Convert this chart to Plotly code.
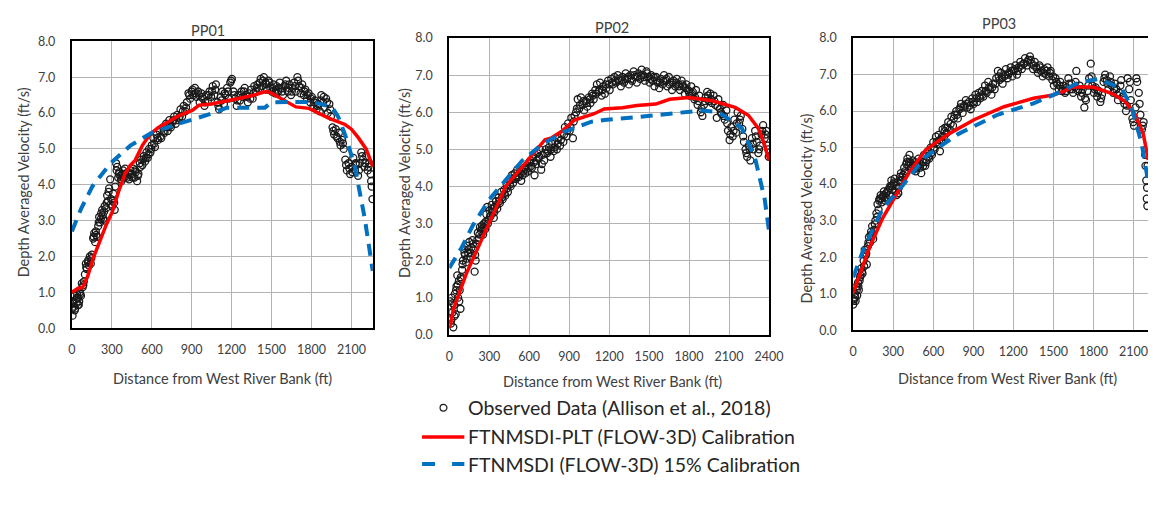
import plotly.graph_objects as go

W, H = 1163, 506

# ---------------- PP01 ----------------
p1_obs_x = [0, 5, 10, 15, 20, 25, 30, 35, 40, 45, 50, 55, 60, 68, 75, 82, 90, 98, 105, 112, 120, 128, 135, 142, 150, 160, 168, 175, 183, 190, 198, 205, 212, 220, 228, 235, 242, 250, 258, 265, 272, 280, 288, 295, 302, 310, 318, 325, 332, 340, 348, 356, 364, 372, 380, 390, 400, 410, 420, 430, 440, 450, 460, 470, 480, 490, 500, 510, 520, 530, 540, 550, 560, 570, 580, 590, 600, 612, 624, 636, 648, 660, 672, 684, 696, 708, 720, 732, 744, 756, 768, 780, 792, 804, 816, 828, 840, 852, 864, 876, 888, 900, 912, 924, 936, 948, 960, 972, 984, 996, 1010, 1022, 1034, 1046, 1058, 1070, 1082, 1094, 1106, 1118, 1130, 1142, 1154, 1166, 1178, 1190, 1202, 1214, 1226, 1238, 1250, 1262, 1274, 1286, 1298, 1310, 1322, 1334, 1346, 1358, 1370, 1382, 1394, 1406, 1418, 1430, 1442, 1454, 1466, 1478, 1490, 1502, 1514, 1526, 1538, 1550, 1562, 1574, 1586, 1598, 1610, 1622, 1634, 1646, 1658, 1670, 1682, 1694, 1706, 1718, 1730, 1742, 1754, 1766, 1778, 1790, 1802, 1814, 1826, 1838, 1850, 1862, 1874, 1886, 1898, 1910, 1922, 1934, 1946, 1958, 1970, 1982, 1994, 2006, 2018, 2030, 2042, 2054, 2066, 2078, 2090, 2102, 2114, 2126, 2138, 2150, 2162, 2174, 2186, 2198, 2210, 2222, 2234, 2244, 2252, 2258]
p1_obs_v = [0.55, 0.35, 0.75, 0.6, 0.9, 0.55, 0.8, 0.7, 0.95, 0.65, 0.85, 0.75, 1.0, 0.9, 1.25, 1.15, 1.3, 1.5, 1.8, 1.65, 1.85, 1.75, 2.0, 1.8, 2.05, 2.5, 2.65, 2.4, 2.6, 2.55, 2.85, 3.1, 2.95, 3.2, 3.3, 3.05, 3.25, 3.0, 3.35, 3.7, 3.55, 3.9, 4.15, 3.6, 3.4, 3.75, 3.5, 3.95, 4.6, 4.5, 4.2, 4.35, 4.25, 4.1, 4.3, 4.2, 4.45, 4.25, 4.35, 4.15, 4.4, 4.3, 4.45, 4.2, 4.35, 4.1, 4.3, 4.6, 4.7, 4.55, 4.8, 4.65, 4.9, 4.75, 5.0, 4.9, 5.1, 5.3, 5.05, 5.4, 5.25, 5.5, 5.3, 5.6, 5.45, 5.7, 5.5, 5.8, 5.6, 5.75, 5.9, 5.7, 5.95, 5.85, 6.1, 5.9, 6.2, 6.05, 6.3, 6.55, 6.4, 6.6, 6.5, 6.7, 6.45, 6.6, 6.3, 6.55, 6.4, 6.2, 6.5, 6.35, 6.6, 6.45, 6.75, 6.5, 6.8, 6.3, 6.1, 6.45, 6.6, 6.25, 6.5, 6.7, 6.4, 6.85, 6.95, 6.6, 6.4, 6.2, 6.5, 6.35, 6.6, 6.45, 6.7, 6.5, 6.3, 6.55, 6.65, 6.4, 6.75, 6.6, 6.8, 6.7, 6.95, 6.75, 7.0, 6.85, 6.65, 6.9, 6.7, 6.6, 6.8, 6.55, 6.75, 6.6, 6.85, 6.7, 6.5, 6.75, 6.9, 6.6, 6.8, 6.5, 6.7, 6.85, 6.6, 7.0, 6.75, 6.55, 6.8, 6.5, 6.65, 6.4, 6.55, 6.3, 6.45, 6.2, 6.35, 6.1, 6.25, 6.05, 6.5, 6.3, 6.15, 6.4, 6.0, 6.25, 5.9, 5.6, 5.4, 5.55, 5.3, 5.45, 5.1, 5.25, 5.0, 4.7, 4.4, 4.6, 4.3, 4.5, 4.75, 4.4, 4.55, 4.25, 4.6, 4.9, 4.7, 4.5, 4.8, 4.4, 4.6, 4.3, 3.95, 3.6]
p1_obs2_x = [8, 22, 38, 52, 64, 86, 108, 124, 146, 164, 180, 202, 218, 232, 246, 262, 276, 292, 306, 322, 336, 352, 368, 384, 396, 416, 436, 456, 476, 496, 516, 536, 556, 576, 596, 618, 642, 666, 690, 714, 738, 762, 786, 810, 834, 858, 882, 906, 930, 954, 978, 1002, 1028, 1052, 1076, 1100, 1124, 1148, 1172, 1196, 1220, 1244, 1268, 1292, 1316, 1340, 1364, 1388, 1412, 1436, 1460, 1484, 1508, 1532, 1556, 1580, 1604, 1628, 1652, 1676, 1700, 1724, 1748, 1772, 1796, 1820, 1844, 1868, 1892, 1916, 1940, 1964, 1988, 2012, 2036, 2060, 2084, 2108, 2132, 2156, 2180, 2204, 2228, 2248]
p1_obs2_v = [0.7, 0.5, 0.85, 0.65, 0.95, 1.2, 1.7, 1.9, 1.95, 2.55, 2.7, 2.95, 3.05, 3.15, 3.4, 3.5, 3.8, 3.45, 3.55, 3.3, 4.4, 4.3, 4.15, 4.4, 4.3, 4.2, 4.3, 4.2, 4.4, 4.25, 4.5, 4.7, 4.75, 4.85, 5.0, 5.15, 5.3, 5.35, 5.5, 5.6, 5.65, 5.8, 5.8, 5.9, 6.05, 6.15, 6.5, 6.65, 6.55, 6.5, 6.45, 6.3, 6.5, 6.6, 6.65, 6.2, 6.35, 6.55, 6.6, 6.9, 6.5, 6.35, 6.5, 6.6, 6.45, 6.4, 6.55, 6.7, 6.85, 6.9, 6.8, 6.85, 6.7, 6.65, 6.7, 6.6, 6.8, 6.7, 6.6, 6.75, 6.9, 6.7, 6.6, 6.5, 6.4, 6.3, 6.2, 6.35, 6.45, 6.3, 6.1, 5.5, 5.35, 5.2, 5.15, 4.55, 4.45, 4.35, 4.6, 4.4, 4.8, 4.6, 4.5, 4.1]
p1_red_x = [0, 30, 50, 80, 118, 160, 217, 260, 303, 350, 401, 440, 475, 530, 586, 650, 709, 800, 907, 956, 1050, 1128, 1250, 1350, 1436, 1470, 1510, 1600, 1683, 1781, 1850, 1929, 2052, 2100, 2150, 2210, 2261]
p1_red_v = [1.0, 1.08, 1.12, 1.13, 1.44, 1.95, 2.52, 2.9, 3.24, 3.8, 4.32, 4.55, 4.68, 5.1, 5.4, 5.6, 5.72, 5.92, 6.08, 6.22, 6.25, 6.31, 6.4, 6.48, 6.58, 6.6, 6.53, 6.35, 6.17, 6.13, 6.0, 5.86, 5.68, 5.55, 5.32, 5.0, 4.5]
p1_blue_x = [0, 69, 155, 291, 439, 599, 784, 1054, 1165, 1387, 1450, 1500, 1609, 1806, 1954, 2000, 2052, 2100, 2126, 2200, 2250, 2260]
p1_blue_v = [2.7, 3.33, 3.96, 4.6, 5.09, 5.45, 5.68, 5.99, 6.15, 6.13, 6.15, 6.3, 6.3, 6.31, 6.17, 5.9, 5.4, 4.85, 4.5, 3.06, 1.8, 1.6]

# ---------------- PP02 ----------------
p2_obs_x = [0, 6, 12, 18, 24, 30, 36, 42, 48, 54, 60, 66, 72, 78, 84, 90, 96, 102, 110, 118, 126, 134, 142, 150, 158, 166, 174, 182, 190, 198, 206, 214, 222, 230, 238, 246, 254, 262, 270, 278, 286, 294, 302, 310, 318, 326, 334, 342, 350, 360, 370, 380, 390, 400, 410, 420, 430, 440, 450, 460, 470, 480, 490, 500, 510, 520, 530, 540, 550, 560, 570, 580, 590, 600, 610, 620, 630, 640, 650, 660, 670, 680, 690, 700, 712, 724, 736, 748, 760, 772, 784, 796, 808, 820, 832, 844, 856, 868, 880, 892, 904, 916, 928, 940, 952, 964, 976, 988, 1000, 1012, 1024, 1036, 1048, 1060, 1072, 1084, 1096, 1108, 1120, 1132, 1144, 1156, 1168, 1180, 1192, 1204, 1216, 1228, 1240, 1252, 1264, 1276, 1288, 1300, 1312, 1324, 1336, 1348, 1360, 1372, 1384, 1396, 1408, 1420, 1432, 1444, 1456, 1468, 1480, 1492, 1504, 1516, 1528, 1540, 1552, 1564, 1576, 1588, 1600, 1612, 1624, 1636, 1648, 1660, 1672, 1684, 1696, 1708, 1720, 1732, 1744, 1756, 1768, 1780, 1792, 1804, 1816, 1828, 1840, 1852, 1864, 1876, 1888, 1900, 1912, 1924, 1936, 1948, 1960, 1972, 1984, 1996, 2008, 2020, 2032, 2044, 2056, 2068, 2080, 2092, 2104, 2116, 2128, 2140, 2152, 2164, 2176, 2188, 2200, 2212, 2224, 2236, 2248, 2260, 2272, 2284, 2296, 2308, 2320, 2332, 2344, 2356, 2368, 2380, 2392, 2398]
p2_obs_v = [0.45, 0.9, 0.3, 1.0, 0.6, 0.2, 0.8, 1.1, 0.55, 1.3, 1.6, 1.0, 1.45, 1.2, 0.7, 1.5, 1.75, 2.0, 2.3, 2.15, 1.95, 2.4, 2.2, 2.5, 2.1, 2.35, 2.55, 2.3, 1.7, 2.0, 2.45, 2.75, 2.6, 2.9, 2.8, 2.95, 2.7, 3.0, 2.85, 3.25, 3.45, 3.1, 3.35, 3.2, 3.5, 3.3, 3.15, 3.45, 3.6, 3.4, 3.7, 3.55, 3.85, 3.65, 3.9, 3.75, 4.05, 3.85, 4.15, 4.0, 4.3, 4.1, 4.35, 4.2, 4.45, 4.25, 4.4, 4.15, 4.3, 4.5, 4.35, 4.55, 4.4, 4.65, 4.7, 4.5, 4.8, 4.3, 4.6, 4.9, 4.75, 5.0, 4.45, 4.85, 4.7, 5.0, 4.9, 5.05, 4.8, 5.15, 4.95, 5.2, 5.0, 5.3, 5.1, 5.4, 5.2, 5.6, 5.35, 5.7, 5.5, 5.85, 5.3, 5.9, 6.0, 6.35, 6.1, 6.4, 6.2, 6.05, 6.3, 6.15, 6.4, 6.25, 6.5, 6.35, 6.6, 6.75, 6.55, 6.8, 6.45, 6.7, 6.5, 6.65, 6.85, 6.6, 6.9, 6.75, 6.95, 6.8, 7.0, 6.85, 6.7, 6.95, 6.8, 7.05, 6.9, 6.75, 7.0, 6.85, 7.1, 6.95, 6.8, 7.05, 6.9, 7.15, 7.0, 6.85, 7.1, 6.95, 6.8, 7.0, 6.85, 6.7, 6.95, 6.8, 6.65, 6.9, 6.75, 7.0, 6.85, 6.7, 6.95, 6.8, 6.6, 6.85, 6.7, 6.9, 6.75, 6.6, 6.85, 6.7, 6.5, 6.75, 6.6, 6.45, 6.7, 6.55, 6.35, 6.6, 6.2, 6.45, 6.0, 5.9, 6.2, 6.4, 6.55, 6.3, 6.5, 6.25, 6.45, 6.2, 5.85, 6.35, 6.1, 5.95, 6.2, 5.8, 6.05, 5.5, 5.25, 5.6, 5.35, 5.8, 5.45, 6.0, 5.7, 5.9, 5.55, 5.2, 5.0, 4.8, 5.1, 4.7, 5.3, 5.0, 5.5, 5.2, 4.9, 5.1, 5.4, 5.65, 5.3, 5.5, 5.1, 4.8]
p2_obs2_x = [3, 15, 27, 39, 51, 63, 75, 87, 99, 114, 130, 146, 162, 178, 194, 210, 226, 242, 258, 274, 290, 306, 322, 338, 355, 375, 395, 415, 435, 455, 475, 495, 515, 535, 555, 575, 595, 615, 635, 655, 675, 695, 718, 742, 766, 790, 814, 838, 862, 886, 910, 934, 958, 982, 1006, 1030, 1054, 1078, 1102, 1126, 1150, 1174, 1198, 1222, 1246, 1270, 1294, 1318, 1342, 1366, 1390, 1414, 1438, 1462, 1486, 1510, 1534, 1558, 1582, 1606, 1630, 1654, 1678, 1702, 1726, 1750, 1774, 1798, 1822, 1846, 1870, 1894, 1918, 1942, 1966, 1990, 2014, 2038, 2062, 2086, 2110, 2134, 2158, 2182, 2206, 2230, 2254, 2278, 2302, 2326, 2350, 2374, 2395]
p2_obs2_v = [0.6, 0.4, 0.85, 0.5, 1.2, 1.35, 0.9, 1.55, 1.9, 2.2, 2.05, 2.3, 2.2, 2.45, 2.15, 2.55, 2.7, 2.85, 2.9, 3.05, 3.0, 3.2, 3.4, 3.3, 3.5, 3.6, 3.7, 3.8, 3.95, 4.05, 4.2, 4.25, 4.3, 4.35, 4.4, 4.45, 4.5, 4.55, 4.65, 4.7, 4.8, 4.6, 4.9, 4.95, 5.0, 5.05, 5.15, 5.25, 5.4, 5.5, 5.6, 5.75, 6.1, 6.2, 6.3, 6.25, 6.35, 6.45, 6.5, 6.6, 6.6, 6.75, 6.75, 6.8, 6.85, 6.9, 6.85, 6.9, 6.95, 6.9, 7.0, 6.95, 7.0, 6.95, 7.05, 6.9, 6.95, 6.85, 6.8, 6.85, 6.9, 6.75, 6.8, 6.8, 6.7, 6.75, 6.65, 6.55, 6.5, 6.4, 6.3, 6.1, 6.3, 6.45, 6.35, 6.3, 6.15, 6.0, 5.9, 5.7, 5.4, 5.5, 5.7, 5.8, 5.35, 4.9, 5.0, 5.15, 5.35, 5.0, 5.5, 5.4, 5.0]
p2_red_x = [0, 10, 30, 80, 128, 226, 325, 423, 546, 657, 718, 768, 842, 940, 1088, 1162, 1300, 1408, 1550, 1654, 1802, 1974, 2146, 2245, 2319, 2360, 2393, 2400]
p2_red_v = [0.2, 0.3, 0.68, 1.2, 1.65, 2.43, 3.21, 4.0, 4.52, 5.0, 5.26, 5.31, 5.48, 5.79, 5.96, 6.09, 6.12, 6.18, 6.22, 6.35, 6.4, 6.31, 6.13, 5.92, 5.57, 5.2, 4.8, 4.7]
p2_blue_x = [0, 91, 177, 300, 423, 546, 694, 866, 1063, 1162, 1408, 1654, 1900, 2023, 2196, 2294, 2368, 2400]
p2_blue_v = [1.8, 2.34, 2.95, 3.65, 4.17, 4.69, 5.13, 5.48, 5.74, 5.79, 5.87, 5.96, 6.05, 6.0, 5.57, 4.78, 3.65, 2.8]

# ---------------- PP03 ----------------
p3_obs_x = [0, 6, 12, 18, 24, 30, 36, 42, 48, 55, 62, 70, 78, 86, 94, 102, 110, 118, 126, 134, 142, 150, 158, 166, 174, 182, 190, 198, 206, 214, 222, 230, 238, 246, 254, 262, 270, 278, 286, 294, 302, 310, 318, 326, 334, 342, 350, 358, 366, 374, 382, 390, 398, 406, 414, 422, 430, 438, 446, 454, 462, 470, 480, 490, 500, 510, 520, 530, 540, 550, 560, 570, 580, 590, 600, 610, 620, 630, 640, 650, 660, 670, 680, 690, 700, 712, 724, 736, 748, 760, 772, 784, 796, 808, 820, 832, 844, 856, 868, 880, 892, 904, 916, 928, 940, 952, 964, 976, 988, 1000, 1012, 1024, 1036, 1048, 1060, 1072, 1084, 1096, 1108, 1120, 1132, 1144, 1156, 1168, 1180, 1192, 1204, 1216, 1228, 1240, 1252, 1264, 1276, 1288, 1300, 1312, 1324, 1336, 1348, 1360, 1372, 1384, 1396, 1408, 1420, 1432, 1444, 1456, 1468, 1480, 1492, 1504, 1516, 1528, 1540, 1552, 1564, 1576, 1588, 1600, 1612, 1624, 1636, 1648, 1660, 1672, 1684, 1696, 1708, 1720, 1732, 1744, 1756, 1768, 1780, 1792, 1804, 1816, 1828, 1840, 1852, 1864, 1876, 1888, 1900, 1912, 1924, 1936, 1948, 1960, 1972, 1984, 1996, 2008, 2020, 2032, 2044, 2056, 2068, 2080, 2092, 2104, 2116, 2128, 2140, 2152, 2164, 2176, 2188, 2196, 2200, 2204, 2206]
p3_obs_v = [0.7, 0.85, 1.0, 0.8, 1.2, 0.95, 1.3, 1.1, 1.35, 1.5, 1.7, 1.55, 1.9, 2.2, 2.05, 1.8, 2.3, 2.55, 2.4, 2.7, 2.85, 2.5, 2.75, 3.0, 3.2, 3.45, 3.3, 3.6, 3.7, 3.5, 3.65, 3.8, 3.55, 3.75, 3.6, 3.85, 3.7, 3.95, 4.1, 3.85, 4.0, 4.15, 3.8, 3.7, 4.05, 3.9, 4.2, 4.3, 4.1, 4.25, 4.45, 4.3, 4.55, 4.7, 4.5, 4.8, 4.6, 4.45, 4.65, 4.4, 4.6, 4.35, 4.55, 4.7, 4.45, 4.3, 4.6, 4.8, 4.5, 4.65, 4.9, 4.7, 5.0, 4.8, 5.15, 4.95, 5.3, 5.1, 5.35, 4.9, 5.2, 5.5, 5.3, 5.55, 5.4, 5.7, 5.5, 5.85, 5.6, 5.9, 6.0, 5.8, 6.05, 6.2, 5.95, 6.15, 6.3, 6.1, 6.25, 6.05, 6.35, 6.2, 6.45, 6.25, 6.5, 6.35, 6.55, 6.4, 6.7, 6.5, 6.8, 6.6, 6.45, 6.75, 6.6, 6.9, 7.1, 6.85, 7.05, 6.75, 6.95, 7.15, 6.9, 7.05, 7.2, 6.95, 7.1, 7.25, 7.0, 7.2, 7.35, 7.15, 7.3, 7.45, 7.25, 7.4, 7.5, 7.3, 7.15, 7.35, 7.2, 7.05, 7.25, 7.1, 6.95, 7.15, 7.0, 7.2, 6.95, 7.1, 6.85, 6.7, 6.9, 6.75, 6.6, 6.8, 6.55, 6.7, 6.5, 6.65, 6.9, 6.6, 6.75, 6.5, 6.65, 7.1, 6.55, 6.7, 6.4, 6.6, 6.1, 6.3, 6.55, 6.9, 7.3, 6.7, 6.5, 6.65, 6.4, 6.55, 6.25, 6.45, 6.8, 7.0, 6.85, 6.6, 6.95, 6.7, 6.5, 6.75, 6.6, 6.3, 6.5, 6.85, 6.4, 6.2, 6.0, 6.9, 6.6, 6.3, 5.8, 5.6, 6.1, 6.8, 6.5, 5.9, 5.5, 5.7, 4.8, 4.1, 3.6, 3.4, 4.5]
p3_obs2_x = [3, 15, 27, 39, 52, 66, 82, 98, 114, 130, 146, 162, 178, 194, 210, 226, 242, 258, 274, 290, 306, 322, 338, 354, 370, 386, 402, 418, 434, 450, 466, 485, 505, 525, 545, 565, 585, 605, 625, 645, 665, 685, 706, 730, 754, 778, 802, 826, 850, 874, 898, 922, 946, 970, 994, 1018, 1042, 1066, 1090, 1114, 1138, 1162, 1186, 1210, 1234, 1258, 1282, 1306, 1330, 1354, 1378, 1402, 1426, 1450, 1474, 1498, 1522, 1546, 1570, 1594, 1618, 1642, 1666, 1690, 1714, 1738, 1762, 1786, 1810, 1834, 1858, 1882, 1906, 1930, 1954, 1978, 2002, 2026, 2050, 2074, 2098, 2122, 2146, 2170, 2190, 2202]
p3_obs2_v = [0.8, 0.9, 1.1, 1.2, 1.45, 1.6, 1.75, 2.1, 2.4, 2.6, 2.65, 2.9, 3.1, 3.55, 3.6, 3.7, 3.65, 3.8, 3.9, 3.95, 4.05, 3.95, 3.75, 4.1, 4.2, 4.35, 4.6, 4.6, 4.55, 4.5, 4.45, 4.5, 4.55, 4.5, 4.6, 4.75, 4.85, 5.0, 5.15, 5.2, 5.3, 5.45, 5.55, 5.65, 5.8, 5.9, 6.1, 6.1, 6.2, 6.15, 6.25, 6.35, 6.4, 6.45, 6.55, 6.65, 6.65, 6.75, 6.95, 6.9, 7.0, 7.0, 7.1, 7.15, 7.1, 7.25, 7.3, 7.35, 7.4, 7.25, 7.15, 7.2, 7.05, 7.1, 7.05, 6.95, 6.8, 6.7, 6.6, 6.55, 6.75, 6.6, 6.8, 6.6, 6.5, 6.35, 6.7, 6.95, 6.6, 6.5, 6.35, 6.9, 6.75, 6.8, 6.6, 6.45, 6.7, 6.3, 6.15, 6.8, 5.7, 6.9, 6.2, 5.6, 4.5, 3.9]
p3_red_x = [0, 60, 123, 221, 320, 418, 541, 713, 909, 1130, 1351, 1499, 1580, 1646, 1794, 1941, 2039, 2113, 2174, 2211]
p3_red_v = [1.03, 1.65, 2.27, 3.07, 3.69, 4.31, 4.93, 5.37, 5.77, 6.12, 6.35, 6.44, 6.55, 6.66, 6.66, 6.48, 6.26, 5.9, 5.37, 4.66]
p3_blue_x = [0, 74, 221, 368, 541, 786, 1081, 1351, 1548, 1695, 1842, 2014, 2088, 2162, 2199, 2209]
p3_blue_v = [1.45, 2.18, 3.33, 3.95, 4.75, 5.37, 5.9, 6.21, 6.52, 6.79, 6.88, 6.61, 6.08, 5.1, 4.31, 4.0]

titles = ["PP01", "PP02", "PP03"]
x_title = "Distance from West River Bank (ft)"
y_title = "Depth Averaged Velocity (ft/s)"
legend_names = ["Observed Data (Allison et al., 2018)",
                "FTNMSDI-PLT (FLOW-3D) Calibration",
                "FTNMSDI (FLOW-3D) 15% Calibration"]
y_ticks = [0, 1, 2, 3, 4, 5, 6, 7, 8]
x_ticks_13 = [0, 300, 600, 900, 1200, 1500, 1800, 2100]
x_ticks_2 = [0, 300, 600, 900, 1200, 1500, 1800, 2100, 2400]
x_max = [2261, 2400, 2209]

FONT = "Lato, Carlito, Calibri, 'Open Sans', sans-serif"
TXT = "#404040"


def px(x):
    return x / W


def py(y):
    return 1 - y / H


# plot-area pixel boxes (left, right, top, bottom)
boxes = [(69, 375, 34.3, 330), (452.7, 777.7, 31, 336.7), (863.3, 1163, 31, 332)]

fig = go.Figure()
panels = [
    (p1_obs_x + p1_obs2_x, p1_obs_v + p1_obs2_v, p1_red_x, p1_red_v, p1_blue_x, p1_blue_v),
    (p2_obs_x + p2_obs2_x, p2_obs_v + p2_obs2_v, p2_red_x, p2_red_v, p2_blue_x, p2_blue_v),
    (p3_obs_x + p3_obs2_x, p3_obs_v + p3_obs2_v, p3_red_x, p3_red_v, p3_blue_x, p3_blue_v),
]
for i, (ox, ov, rx, rv, bx, bv) in enumerate(panels):
    sfx = "" if i == 0 else str(i + 1)
    xa, ya = "x" + sfx, "y" + sfx
    fig.add_trace(go.Scatter(x=ox, y=ov, mode="markers", xaxis=xa, yaxis=ya,
                             name=legend_names[0], showlegend=False,
                             marker=dict(symbol="circle-open", size=7, color="#1a1a1a",
                                         line=dict(width=1.3))))
    fig.add_trace(go.Scatter(x=rx, y=rv, mode="lines", xaxis=xa, yaxis=ya,
                             name=legend_names[1], showlegend=False,
                             line=dict(color="#ff0000", width=3.5)))
    fig.add_trace(go.Scatter(x=bx, y=bv, mode="lines", xaxis=xa, yaxis=ya,
                             name=legend_names[2], showlegend=False,
                             line=dict(color="#0070c0", width=4, dash="12px,8px")))

layout = dict(width=W, height=H, margin=dict(l=0, r=0, t=0, b=0),
              paper_bgcolor="white", plot_bgcolor="white",
              font=dict(family=FONT, size=12, color=TXT), showlegend=False)

for i, (l, r, t, b) in enumerate(boxes):
    sfx = "" if i == 0 else str(i + 1)
    layout["xaxis" + sfx] = dict(
        domain=[px(l), min(1.0, px(r))], range=[0, x_max[i]], anchor="y" + sfx,
        tickvals=x_ticks_2 if i == 1 else x_ticks_13,
        showgrid=True, gridcolor="#b3b3b3", gridwidth=1, zeroline=False,
        showline=True, linecolor="black", linewidth=2, mirror=True,
        ticks="", ticklabelstandoff=9, tickfont=dict(size=12.5, color=TXT, family=FONT))
    layout["yaxis" + sfx] = dict(
        domain=[py(b), py(t)], range=[0, 8], anchor="x" + sfx,
        tickvals=y_ticks, tickformat=".1f",
        showgrid=True, gridcolor="#b3b3b3", gridwidth=1, zeroline=False,
        showline=True, linecolor="black", linewidth=2, mirror=(i != 2),
        ticks="", ticklabelstandoff=12, tickfont=dict(size=12.5, color=TXT, family=FONT))

fig.update_layout(**layout)

ann = []
title_pos = [(207, 23), (618, 20), (1012, 16)]
for (x, y), t in zip(title_pos, titles):
    ann.append(dict(x=px(x), y=py(y), xref="paper", yref="paper", text=t, showarrow=False,
                    font=dict(size=14.5, color=TXT, family=FONT), xanchor="center", yanchor="middle"))
xt_pos = [(222, 382), (619, 385), (1020, 382)]
for x, y in xt_pos:
    ann.append(dict(x=px(x), y=py(y), xref="paper", yref="paper", text=x_title, showarrow=False,
                    font=dict(size=14.5, color=TXT, family=FONT), xanchor="center", yanchor="middle"))
yt_pos = [(20, 180), (407, 180), (816, 207)]
for x, y in yt_pos:
    ann.append(dict(x=px(x), y=py(y), xref="paper", yref="paper", text=y_title, showarrow=False,
                    textangle=-90, font=dict(size=14.5, color=TXT, family=FONT),
                    xanchor="center", yanchor="middle"))
leg_y = [412, 442, 470]
for y, t in zip(leg_y, legend_names):
    ann.append(dict(x=px(470), y=py(y), xref="paper", yref="paper", text=t, showarrow=False,
                    font=dict(size=19.5, color="#262626", family=FONT), xanchor="left", yanchor="middle"))

shapes = [
    dict(type="circle", xref="paper", yref="paper",
         x0=px(443.3), x1=px(450.3), y0=py(leg_y[0] + 3.5), y1=py(leg_y[0] - 3.5),
         line=dict(color="#1a1a1a", width=1.2)),
    dict(type="line", xref="paper", yref="paper", x0=px(425), x1=px(468),
         y0=py(leg_y[1]), y1=py(leg_y[1]), line=dict(color="#ff0000", width=3.5)),
    dict(type="line", xref="paper", yref="paper", x0=px(425), x1=px(468),
         y0=py(leg_y[2]), y1=py(leg_y[2]), line=dict(color="#0070c0", width=4, dash="13px,17px")),
]
fig.update_layout(annotations=ann, shapes=shapes)

fig.write_html("out.html", config={"displayModeBar": False},
               post_script="var d=document.getElementById('{plot_id}');d.style.position='fixed';"
                           "d.style.left='0px';d.style.top='0px';document.body.style.margin='0';"
                           "document.documentElement.style.overflow='hidden';")
